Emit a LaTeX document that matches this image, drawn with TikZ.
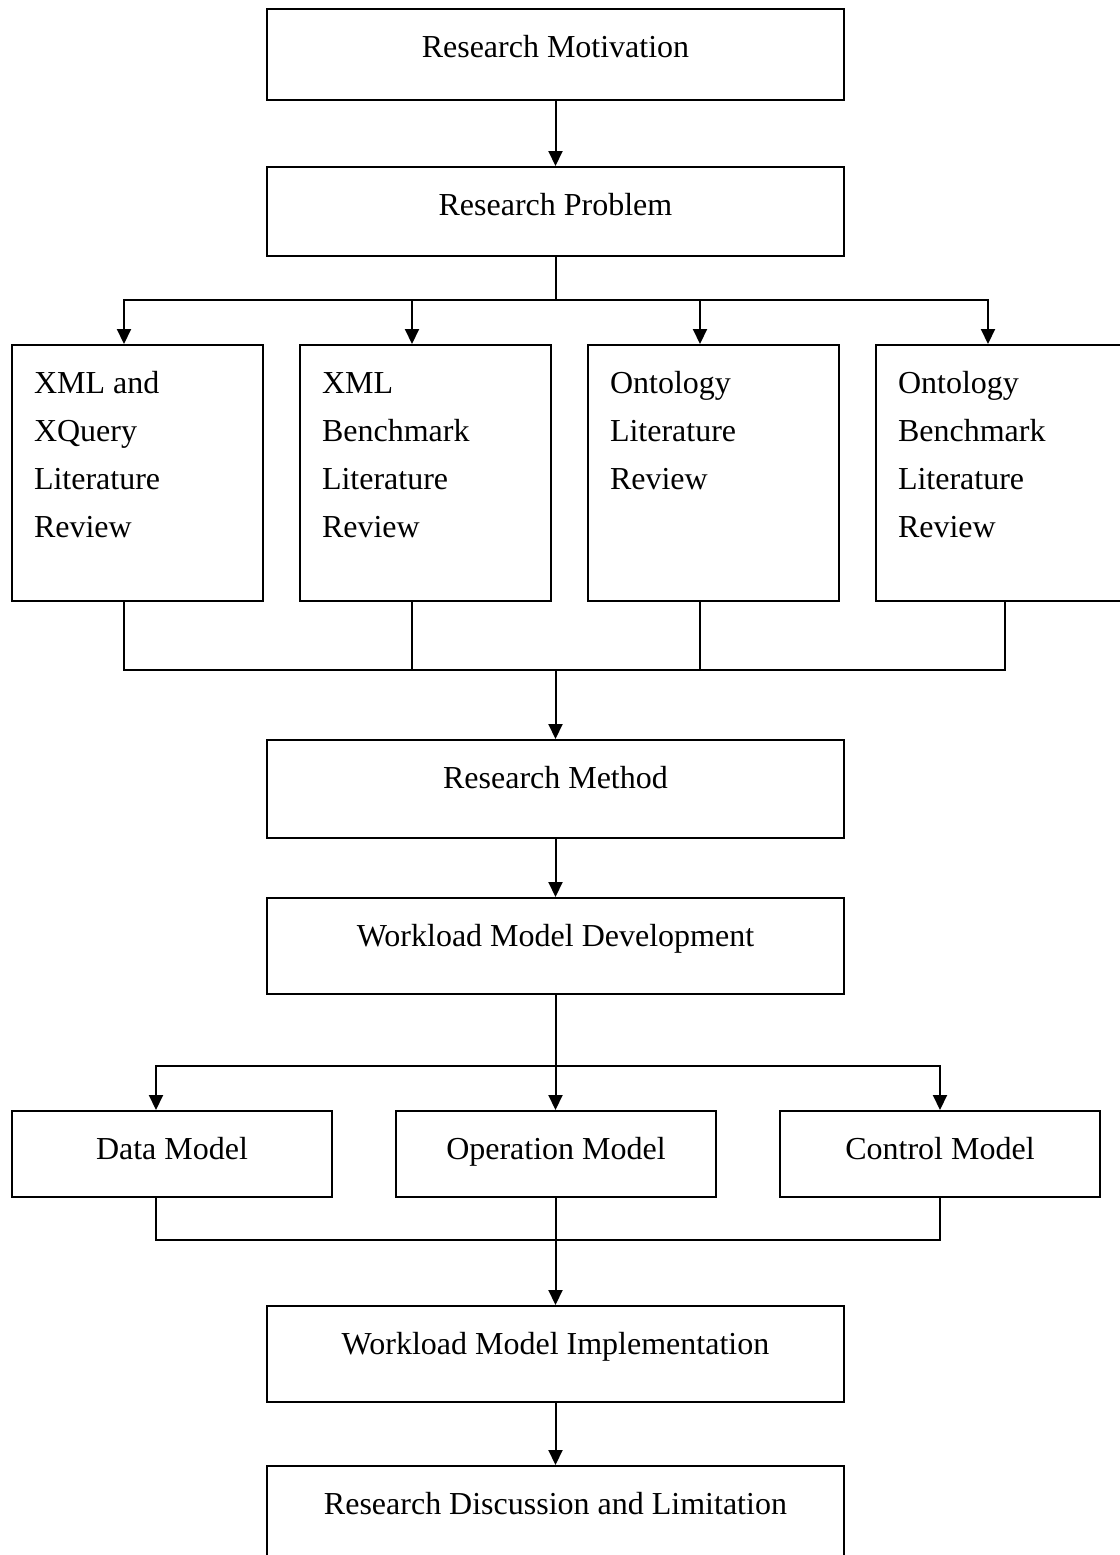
\documentclass[tikz,border=0pt]{standalone}
\usepackage{fontspec}
\setmainfont{Liberation Serif}
\usetikzlibrary{arrows.meta}

\newcommand{\blocktext}[3]{\parbox[b][#2][t]{#1}{\centering\rule{0pt}{24pt}#3}}
\newcommand{\blocktextl}[3]{\parbox[b][#2][t]{#1}{\raggedright\leftskip=11pt\rule{0pt}{24pt}#3}}

\begin{document}
\begin{tikzpicture}[x=0.5pt,y=-0.5pt,line width=1pt,
arr/.style={-{Triangle[length=7.5pt,width=7pt]}}]
\tikzstyle{every node}=[rectangle,draw,inner sep=0pt,anchor=north west,font=\fontsize{16}{24}\selectfont]
\useasboundingbox (0,0) rectangle (1120,1555);
\node (mot) at (266,8) {\blocktext{288.5pt}{45.5pt}{Research Motivation}};
\node (prob) at (266,166) {\blocktext{288.5pt}{44.5pt}{Research Problem}};
\node (xq) at (11,344) {\blocktextl{125.5pt}{128pt}{XML and\\XQuery\\Literature\\Review}};
\node (xb) at (299,344) {\blocktextl{125.5pt}{128pt}{XML\\Benchmark\\Literature\\Review}};
\node (ol) at (587,344) {\blocktextl{125.5pt}{128pt}{Ontology\\Literature\\Review}};
\node (ob) at (875,344) {\blocktextl{125.5pt}{128pt}{Ontology\\Benchmark\\Literature\\Review}};
\node (meth) at (266,739) {\blocktext{288.5pt}{49pt}{Research Method}};
\node (wdev) at (266,897) {\blocktext{288.5pt}{48pt}{Workload Model Development}};
\node (data) at (11,1110) {\blocktext{160pt}{43pt}{Data Model}};
\node (oper) at (395,1110) {\blocktext{160pt}{43pt}{Operation Model}};
\node (ctrl) at (779,1110) {\blocktext{160pt}{43pt}{Control Model}};
\node (impl) at (266,1305) {\blocktext{288.5pt}{48pt}{Workload Model Implementation}};
\node (disc) at (266,1465) {\blocktext{288.5pt}{60pt}{Research Discussion and Limitation}};
\coordinate (split1) at (prob.south |- 0,300);
\coordinate (join1) at (prob.south |- 0,670);
\coordinate (split2) at (wdev.south |- 0,1066);
\coordinate (join2) at (wdev.south |- 0,1240);
\draw[arr] (mot) -- (prob);
\draw (prob) -- (split1);
\draw[arr] (split1) -| ([xshift=-6.75pt]xq.north);
\draw[arr] (split1) -| ([xshift=-6.75pt]xb.north);
\draw[arr] (split1) -| ([xshift=-6.75pt]ol.north);
\draw[arr] (split1) -| ([xshift=-6.75pt]ob.north);
\draw ([xshift=-6.75pt]xq.south) |- (join1) -| ([xshift=1.75pt]ob.south);
\draw ([xshift=-6.75pt]xb.south) -- ([xshift=-6.75pt]xb.south |- join1);
\draw ([xshift=-6.75pt]ol.south) -- ([xshift=-6.75pt]ol.south |- join1);
\draw[arr] (join1) -- (meth);
\draw[arr] (meth) -- (wdev);
\draw (wdev) -- (split2);
\draw[arr] (split2) -| ([xshift=-8pt]data.north);
\draw[arr] (split2) -- (oper.north -| split2);
\draw[arr] (split2) -| (ctrl.north);
\draw ([xshift=-8pt]data.south) |- (join2) -| (ctrl.south);
\draw (oper.south -| join2) -- (join2);
\draw[arr] (join2) -- (impl);
\draw[arr] (impl) -- (disc);
\end{tikzpicture}
\end{document}
